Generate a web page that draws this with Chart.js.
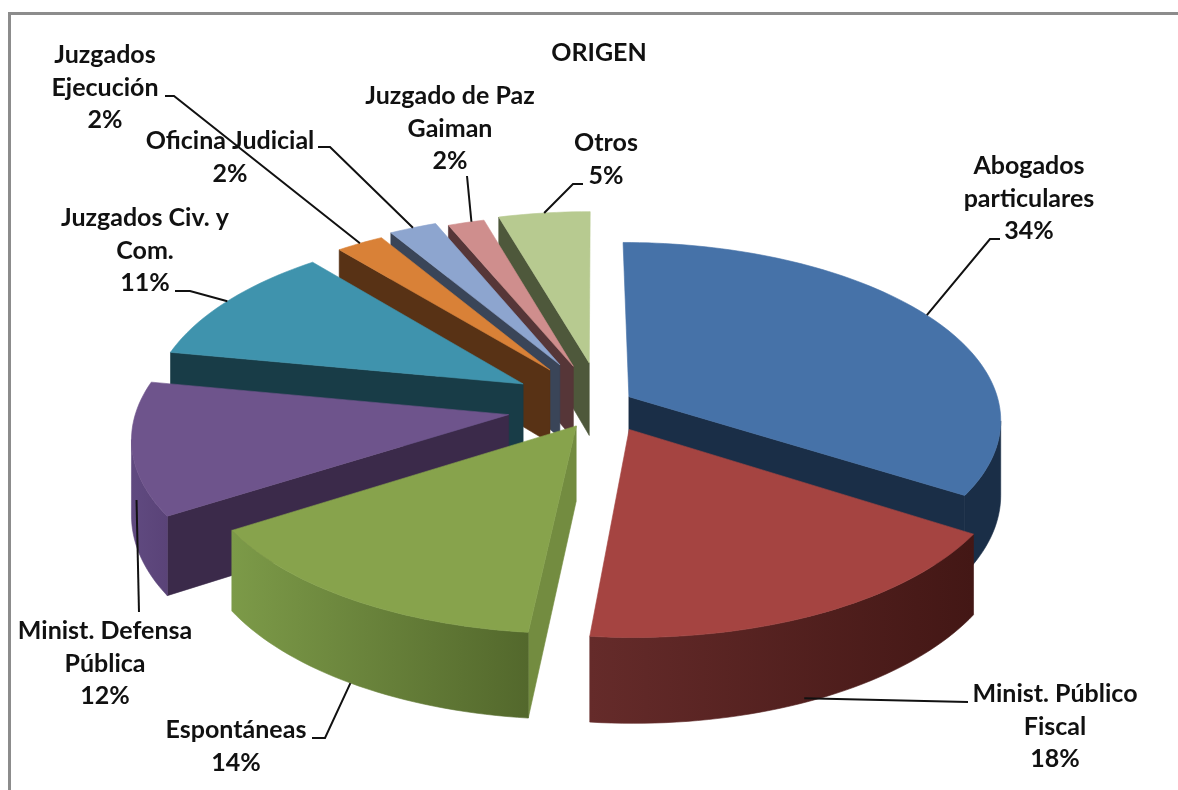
<!DOCTYPE html>
<html>
<head>
<meta charset="utf-8">
<title>ORIGEN</title>
<script src="https://cdn.jsdelivr.net/npm/chart.js@4"></script>
<style>
  html, body { margin: 0; background: #fff; }
  #wrap { position: relative; width: 1178px; height: 790px; overflow: hidden; }
  #frame { position: absolute; left: 8px; top: 12px; width: 1178px; height: 790px;
           border-top: 3px solid #8c8c8c; border-left: 3px solid #8c8c8c; }
  canvas { position: absolute; left: 0; top: 0; }
</style>
</head>
<body>
<div id="wrap">
  <div id="frame"></div>
  <canvas id="myChart" width="1178" height="790"></canvas>
</div>
<script>
// Chart data, the labels show these rounded
const chartTitle = "ORIGEN";
const categories = [
  "Abogados\nparticulares",
  "Minist. Público\nFiscal",
  "Espontáneas",
  "Minist. Defensa\nPública",
  "Juzgados Civ. y\nCom.",
  "Juzgados\nEjecución",
  "Oficina Judicial",
  "Juzgado de Paz\nGaiman",
  "Otros",
];
const percents = [34, 17.6, 14.4, 12, 11, 2.35, 2.35, 1.8, 4.5];

// Slice colours: top face, side faces, outer wall (left to right)
const topColors = ["#4672a8", "#a54441", "#87a34c", "#6e548c", "#3f93ad", "#d98137", "#8da5cf", "#cf8e8d", "#b7ca90"];
const sideColors = ["#1a2e47", "#451a18", "#738c40", "#3b2a4a", "#183c47", "#583215", "#3a4558", "#563638", "#4e583b"];
const wallColors = [
  ["#1a2e47", "#1a2e47"],
  ["#652b2a", "#431715"],
  ["#7c9a48", "#53682c"],
  ["#604a80", "#5a4378"],
  ["#2a6373", "#2a6373"],
  ["#583215", "#583215"],
  ["#3a4558", "#3a4558"],
  ["#563638", "#563638"],
  ["#4e583b", "#4e583b"],
];

// The 3D look of the pie
const view = { radiusX: 372, radiusY: 176, persp: 0.12, depth: 74 };
// Excel pulled the slices out unevenly, this is what the plain offset does not give
const sliceShift = [[1, 14], [28, 5], [37, 3], [-2, 12], [4, 2], [13, -3], [15, -6], [21, -3], [25, -5]];

// Where the labels sit: centre x, first line centre y, where the leader leaves, which
// part of the slice it goes to, and how far down the wall it ends
const labelLayout = [
  { x: 1029, y: 166, path: [[1000, 239], [990, 239]], at: 0.49, low: 0 },
  { x: 1055, y: 694, path: [[968, 702]], at: 0.535, low: 0.95 },
  { x: 236, y: 730, path: [[312, 738], [325, 738]], at: 0.5, low: 1 },
  { x: 105, y: 631, path: [[139, 612]], at: 0.35, low: 0.4 },
  { x: 145, y: 218, path: [[175, 291], [190, 291]], at: 0.5, low: 0 },
  { x: 105, y: 55, path: [[165, 96], [174, 96]], at: 0.5, low: 0 },
  { x: 230, y: 141, path: [[318, 147], [330, 147]], at: 0.5, low: 0 },
  { x: 450, y: 96, path: [[467, 176]], at: 0.65, low: 0 },
  { x: 606, y: 143, path: [[583, 184], [573, 184]], at: 0.5, low: 0 },
];
const lineHeight = 32.5;
const textFont = "bold 25px Lato, Carlito, sans-serif";

// Put a point of the pie (angle, distance from the middle) on the screen
function project(el, i, angle, dist) {
  let r = el.outerRadius;
  let mid = (el.startAngle + el.endAngle) / 2;
  let off = el.options.offset / r;
  let wx = off * Math.cos(mid) + dist * Math.cos(angle);
  let wy = off * Math.sin(mid) + dist * Math.sin(angle);
  let s = 1 / (1 - view.persp * wy);
  return {
    x: el.x + wx * view.radiusX * s + sliceShift[i][0],
    y: el.y + wy * view.radiusY * s + sliceShift[i][1],
    s: s,
  };
}

function fillPoly(ctx, pts, color) {
  ctx.beginPath();
  pts.forEach((p, i) => (i ? ctx.lineTo(p.x, p.y) : ctx.moveTo(p.x, p.y)));
  ctx.closePath();
  ctx.fillStyle = color;
  ctx.fill();
  ctx.strokeStyle = color;
  ctx.lineWidth = 0.6;
  ctx.stroke();
}

function lower(p, part) {
  return { x: p.x, y: p.y + view.depth * p.s * (part === undefined ? 1 : part) };
}

function drawSlice(ctx, el, i) {
  let steps = Math.max(4, Math.round((el.endAngle - el.startAngle) * 40));
  let arc = [];
  for (let n = 0; n <= steps; n++) {
    arc.push(project(el, i, el.startAngle + ((el.endAngle - el.startAngle) * n) / steps, 1));
  }
  let tip = project(el, i, el.startAngle, 0);

  let xs = arc.map((p) => p.x);
  let grad = ctx.createLinearGradient(Math.min(...xs), 0, Math.max(...xs), 0);
  grad.addColorStop(0, wallColors[i][0]);
  grad.addColorStop(1, wallColors[i][1]);

  // only the faces turned to us: the ones running right to left
  if (arc[0].x < tip.x - 8) fillPoly(ctx, [tip, arc[0], lower(arc[0]), lower(tip)], sideColors[i]);
  let run = arc.filter((p, n) => (n < steps && arc[n + 1].x < p.x) || (n > 0 && p.x < arc[n - 1].x));
  if (run.length > 1) {
    fillPoly(ctx, run.concat(run.map((p) => lower(p)).reverse()), grad);
  }
  if (tip.x < arc[steps].x - 8) fillPoly(ctx, [arc[steps], tip, lower(tip), lower(arc[steps])], sideColors[i]);

  fillPoly(ctx, [tip].concat(arc), topColors[i]);
}

const pie3d = {
  id: "pie3d",
  beforeDatasetDraw(chart, args) {
    let ctx = chart.ctx;
    let els = args.meta.data;
    // back slices first
    let order = els.map((el, i) => i).sort((a, b) => {
      let ma = (els[a].startAngle + els[a].endAngle) / 2;
      let mb = (els[b].startAngle + els[b].endAngle) / 2;
      return Math.sin(ma) - Math.sin(mb);
    });
    ctx.save();
    order.forEach((i) => drawSlice(ctx, els[i], i));
    ctx.restore();
    return false;
  },
  afterDraw(chart) {
    let ctx = chart.ctx;
    let els = chart.getDatasetMeta(0).data;
    ctx.save();
    ctx.textAlign = "center";
    ctx.textBaseline = "middle";
    ctx.fillStyle = "#111";
    ctx.font = textFont;
    ctx.fillText(chartTitle, 599, 53);

    categories.forEach((name, i) => {
      let pos = labelLayout[i];
      let lines = name.split("\n").concat(Math.round(percents[i]) + "%");
      lines.forEach((t, n) => ctx.fillText(t, pos.x, pos.y + n * lineHeight));

      let el = els[i];
      let end = project(el, i, el.startAngle + (el.endAngle - el.startAngle) * pos.at, 1);
      end = lower(end, pos.low);
      ctx.beginPath();
      pos.path.forEach((p, n) => (n ? ctx.lineTo(p[0], p[1]) : ctx.moveTo(p[0], p[1])));
      ctx.lineTo(end.x, end.y);
      ctx.strokeStyle = "#111";
      ctx.lineWidth = 2;
      ctx.stroke();
    });
    ctx.restore();
  },
};

let ctx = document.getElementById("myChart").getContext("2d");

var myChart = new Chart(ctx, {
  type: "pie",
  data: {
    labels: categories,
    datasets: [{ data: percents, backgroundColor: topColors, offset: 34, borderWidth: 0 }],
  },
  options: {
    responsive: false,
    animation: false,
    radius: 200,
    layout: { padding: { right: 32, bottom: 0, top: 4 } },
    plugins: { legend: { display: false }, tooltip: { enabled: false } },
  },
  plugins: [pie3d],
});
</script>
</body>
</html>
